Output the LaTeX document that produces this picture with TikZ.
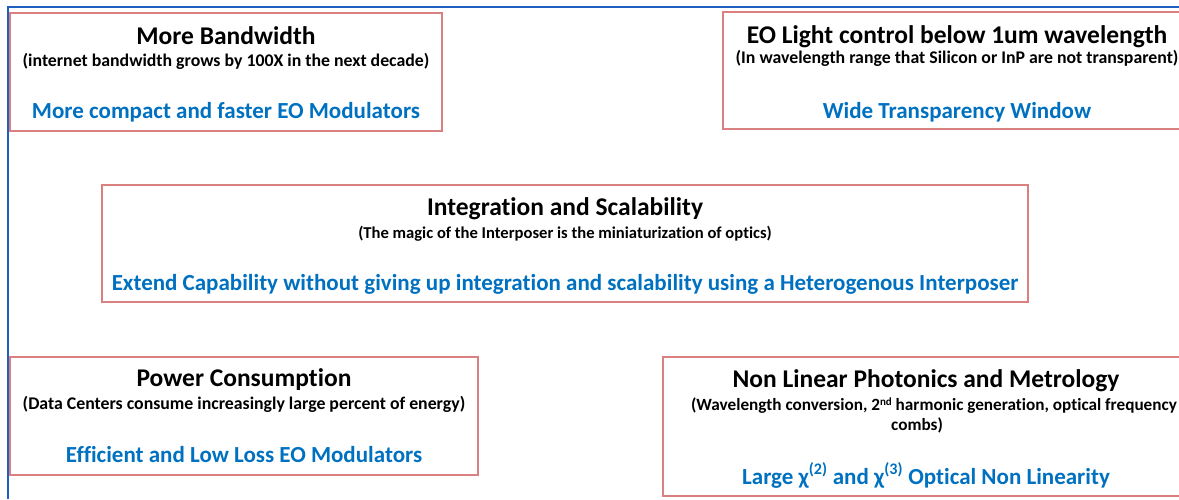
\documentclass[tikz,border=0pt]{standalone}
\usepackage{fontspec}
\setmainfont{Carlito}[Ligatures=NoCommon]
\usetikzlibrary{positioning}

\definecolor{frameblue}{RGB}{31,95,191}
\definecolor{boxred}{RGB}{218,128,128}
\definecolor{goalblue}{RGB}{0,112,192}

\tikzset{
  topic/.style={draw=boxred, line width=1.3pt},
  head/.style={font=\fontsize{25.5}{28}\selectfont\bfseries, inner sep=0pt, anchor=base},
  why/.style={font=\fontsize{17.8}{20}\selectfont\bfseries, inner sep=0pt, anchor=base},
  goal/.style={font=\fontsize{23}{26}\selectfont\bfseries, text=goalblue, inner sep=0pt, anchor=base}
}
\newcommand{\upidx}[1]{\raisebox{0.55ex}{\fontsize{11}{12}\selectfont #1}}

\begin{document}
\begin{tikzpicture}[x=1pt, y=-1pt]
  \useasboundingbox (0,0) rectangle (1179,499);
  \clip (0,0) rectangle (1179,499);

 %frame
  \draw[frameblue, line width=2pt] (8,499) -- (8,7) -- (1179,7);

 %box 1
  \draw[topic] (10,13) rectangle (442,131);
  \node[head] (bw) at (226,44) {More Bandwidth};
  \node[why] (bwwhy) at (226,66) {(internet bandwidth grows by 100X in the next decade)};
  \node[goal] (bwgoal) at (226,118) {More compact and faster EO Modulators};

 %box 2
  \draw[topic] (723,12) rectangle (1191,129);
  \node[head] (eo) at (957,43) {EO Light control below 1um wavelength};
  \node[why] (eowhy) at (957,63) {(In wavelength range that Silicon or InP are not transparent)};
  \node[goal] (eogoal) at (957,118) {Wide Transparency Window};

 %box 3
  \draw[topic] (102,185) rectangle (1028,302);
  \node[head] (int) at (565,215) {Integration and Scalability};
  \node[why, font=\fontsize{16.6}{19}\selectfont\bfseries] (intwhy) at (565,238) {(The magic of the Interposer is the miniaturization of optics)};
  \node[goal] (intgoal) at (565,290) {Extend Capability without giving up integration and scalability using a Heterogenous Interposer};

 %box 4
  \draw[topic] (10,357) rectangle (478,475);
  \node[head] (pw) at (244,386) {Power Consumption};
  \node[why] (pwwhy) at (244,409) {(Data Centers consume increasingly large percent of energy)};
  \node[goal] (pwgoal) at (244,462) {Efficient and Low Loss EO Modulators};

 %box 5
  \draw[topic] (663,357) rectangle (1190,496);
  \node[head] (nl) at (926,387) {Non Linear Photonics and Metrology};
  \node[why, font=\fontsize{17.2}{20}\selectfont\bfseries] (nlwhy) at (934,410) {(Wavelength conversion, 2\upidx{nd} harmonic generation, optical frequency};
  \node[why, font=\fontsize{17.2}{20}\selectfont\bfseries] (nlwhy2) at (917,430) {combs)};
  \node[goal] (nlgoal) at (926,484) {Large χ\textsuperscript{(2)} and χ\textsuperscript{(3)} Optical Non Linearity};
\end{tikzpicture}
\end{document}
